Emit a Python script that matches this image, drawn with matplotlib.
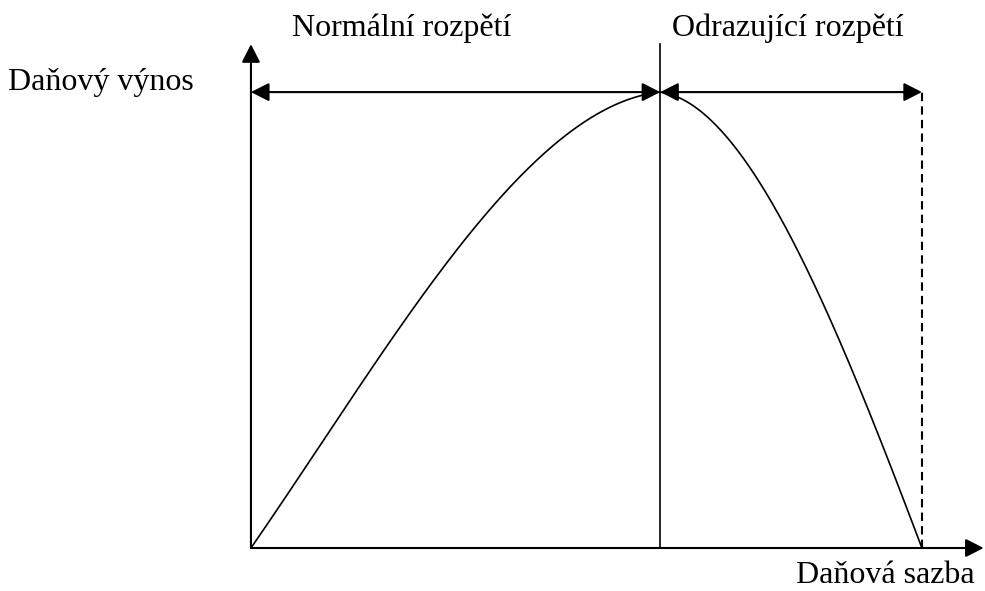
import numpy as np
import matplotlib
matplotlib.use("Agg")
import matplotlib.pyplot as plt
from matplotlib.patches import FancyArrowPatch

# Data (tax rate 0..100, revenue 0..100 at peak)
rate_left = [0, 15, 22, 30, 37, 45, 50, 55, 61]
rev_left = [0, 32.5, 48.5, 63.8, 77.0, 87.9, 93.4, 98.2, 100]
rate_right = [61, 67, 74, 79, 84, 89, 94, 97, 100]
rev_right = [100, 96.1, 84.4, 71.9, 57.2, 41.2, 23.7, 11.2, 0]
peak_rate = 61
peak_revenue = 100
max_rate = 100
axis_x_end = 109.2
axis_y_end = 110.5

label_y = "Daňový výnos"
label_x = "Daňová sazba"
label_normal = "Normální rozpětí"
label_prohib = "Odrazující rozpětí"


def smooth(xs, ys, deg=3, n=200):
    xs = np.asarray(xs, float)
    ys = np.asarray(ys, float)
    w = np.ones_like(xs)
    w[0] = w[-1] = 50
    c = np.polyfit(xs, ys, deg, w=w)
    xx = np.linspace(xs[0], xs[-1], n)
    return xx, np.polyval(c, xx)


fig = plt.figure(figsize=(9.85, 5.91), dpi=100)
ax = fig.add_axes([0, 0, 1, 1])
ax.set_xlim(-37.4, 109.4)
ax.set_ylim(-9.43, 120.2)
ax.axis("off")

font = dict(family=["Liberation Serif", "DejaVu Serif"], fontsize=23, color="black")

def arrow(p0, p1, style, lw=1.5):
    a = FancyArrowPatch(p0, p1, arrowstyle=style, mutation_scale=20,
                        shrinkA=0, shrinkB=0, lw=lw, color="black", zorder=3)
    ax.add_patch(a)

head = "head_length=0.55,head_width=0.28"
# axes
arrow((0, 0), (axis_x_end, 0), "-|>," + head)
arrow((0, 0), (0, axis_y_end), "-|>," + head)
# vertical line at peak
ax.plot([peak_rate, peak_rate], [0, axis_y_end], color="black", lw=1.2)
# dashed line at max rate
ax.plot([max_rate, max_rate], [0, peak_revenue], color="black", lw=1.5,
        linestyle=(0, (4, 2.5)))
# double arrows
arrow((0, peak_revenue), (peak_rate, peak_revenue), "<|-|>," + head)
arrow((peak_rate, peak_revenue), (max_rate, peak_revenue), "<|-|>," + head)

# curve
lx, ly = smooth(rate_left, rev_left)
rx, ry = smooth(rate_right, rev_right)
ax.plot(lx, ly, color="black", lw=1.2, solid_capstyle="round")
ax.plot(rx, ry, color="black", lw=1.2, solid_capstyle="round")

# labels
ax.text(-36.2, 100.4, label_y, ha="left", va="baseline", **font)
ax.text(22.5, 112.3, label_normal, ha="center", va="baseline", **font)
ax.text(80.0, 112.3, label_prohib, ha="center", va="baseline", **font)
ax.text(107.9, -7.7, label_x, ha="right", va="baseline", **font)

fig.savefig("out.png", dpi=100)
